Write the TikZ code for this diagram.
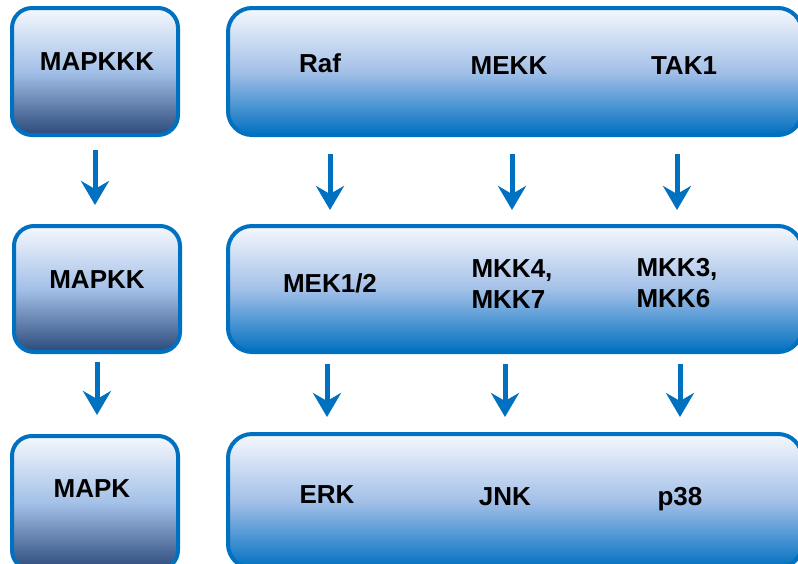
\documentclass[tikz,border=0pt]{standalone}
\usepackage{fontspec}
\setmainfont{Liberation Sans}
\usetikzlibrary{arrows.meta,positioning,calc}
\definecolor{MapBlue}{HTML}{0070C0}
\definecolor{MapNavy}{HTML}{2B497A}
\definecolor{MapSky}{HTML}{A3C0E8}
\definecolor{MapPale}{HTML}{F5F8FD}

\begin{document}
\begin{tikzpicture}[x=1pt, y=-1pt,
  every node/.style={font=\fontsize{26}{31}\selectfont\bfseries},
  tier/.style={draw=MapBlue, line width=4pt, rounded corners=20pt, minimum width=166pt, minimum height=127pt, inner sep=0pt, top color=MapPale, bottom color=MapNavy, middle color=MapSky},
  family/.style={draw=MapBlue, line width=4pt, rounded corners=24pt, minimum width=574pt, minimum height=127pt, inner sep=0pt, top color=MapPale, bottom color=MapBlue, middle color=MapSky},
  lbl/.style={anchor=base, inner sep=0pt},
  arrow/.style={-{Stealth[length=24pt,width=28pt,inset=8pt]}, line width=5pt, color=MapBlue, shorten <=10pt, shorten >=15pt}
]
\clip (0,0) rectangle (798,563);

\node[tier] (kkk) at (95,71.5) {};
\node[tier, minimum height=126pt] (kk) at (97,289) {};
\node[tier, minimum height=134pt] (k) at (95,503) {};

\node[family] (row1) at (515,71.5) {};
\node[family, minimum height=126pt] (row2) at (515,289) {};
\node[family, minimum height=134pt] (row3) at (515,501) {};

\node[lbl] (lkkk) at (97,70) {MAPKKK};
\node[lbl] (lkk) at (97,288) {MAPKK};
\node[lbl] (lk) at (92,497) {MAPK};

\node[lbl] (raf) at (320,72) {Raf};
\node[lbl] (mekk) at (509,74) {MEKK};
\node[lbl] (tak) at (684,74) {TAK1};

\node[lbl] (mek) at (330,292) {MEK1/2};
\node[lbl, align=left] (mkkA) at (512,308) {MKK4,\\MKK7};
\node[lbl, align=left] (mkkB) at (677,307) {MKK3,\\MKK6};

\node[lbl] (erk) at (327,503) {ERK};
\node[lbl] (jnk) at (505,505) {JNK};
\node[lbl] (p38) at (680,505) {p38};

\draw[arrow, shorten <=13pt, shorten >=19pt] (kkk.south) -- (kkk.south |- kk.north);
\draw[arrow, shorten <=8pt, shorten >=19pt] (kk.south) -- (kk.south |- k.north);
\foreach \col in {mek,mkkA,mkkB}
  \draw[arrow, shorten <=17pt, shorten >=14pt] (row1.south -| \col) -- (row2.north -| \col);
\foreach \col in {erk,jnk,p38}
  \draw[arrow] (row2.south -| \col) -- (row3.north -| \col);
\end{tikzpicture}
\end{document}
